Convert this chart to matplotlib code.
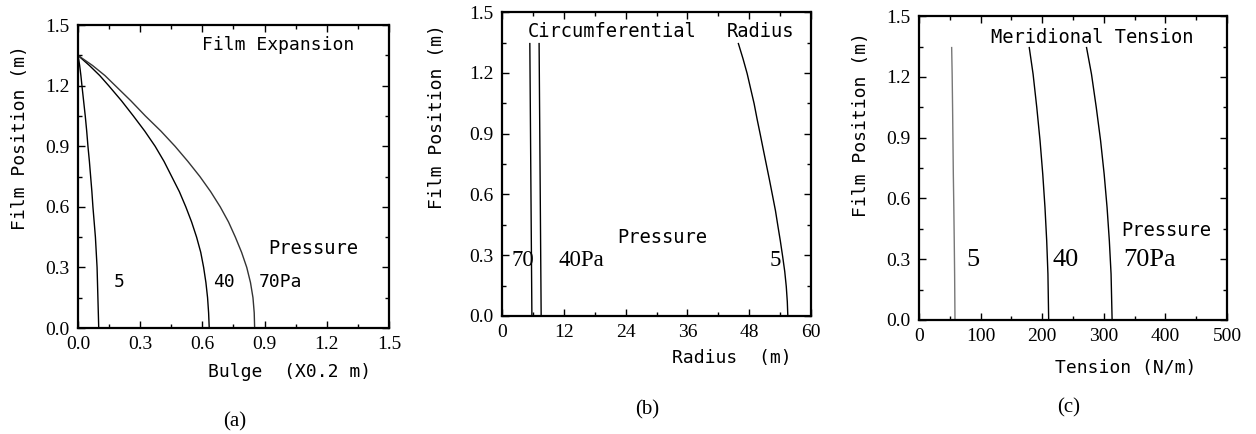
import matplotlib
matplotlib.use("Agg")
import matplotlib.pyplot as plt
from matplotlib.ticker import MultipleLocator

# (a) Membranausbeulung
pos_a = [1.35, 1.3, 1.25, 1.2, 1.125, 1.05, 0.975, 0.9, 0.825, 0.75,
         0.675, 0.6, 0.525, 0.45, 0.375, 0.3, 0.225, 0.15, 0.075, 0.0]
bulge_5 = [0.0, 0.008, 0.014, 0.019, 0.027, 0.035, 0.042, 0.048, 0.055, 0.061,
           0.067, 0.072, 0.078, 0.084, 0.088, 0.092, 0.094, 0.096, 0.098, 0.10]
bulge_40 = [0.0, 0.055, 0.105, 0.148, 0.21, 0.267, 0.322, 0.372, 0.415, 0.452,
            0.489, 0.520, 0.548, 0.572, 0.592, 0.606, 0.617, 0.625, 0.63, 0.633]
bulge_70 = [0.0, 0.07, 0.13, 0.18, 0.255, 0.325, 0.40, 0.468, 0.53, 0.588,
            0.64, 0.686, 0.726, 0.759, 0.789, 0.814, 0.832, 0.844, 0.85, 0.852]

# (b) Umfangsradius
pos_b = [1.345, 1.27, 1.197, 1.12, 1.049, 0.97, 0.896, 0.82, 0.745, 0.67,
         0.592, 0.52, 0.44, 0.37, 0.293, 0.22, 0.145, 0.07, 0.0]
radius_5 = [45.9, 46.8, 47.6, 48.3, 48.95, 49.55, 50.15, 50.75, 51.35, 51.95,
            52.55, 53.1, 53.6, 54.05, 54.5, 54.9, 55.2, 55.4, 55.5]
pos_b_line = [1.345, 0.0]
radius_40 = [7.2, 7.6]
radius_70 = [5.4, 5.8]

# (c) Meridianspannung
pos_c = [1.345, 1.214, 1.049, 0.885, 0.72, 0.556, 0.391, 0.227, 0.0]
tension_5 = [53, 53.8, 54.5, 55.1, 55.7, 56.5, 57.2, 57.8, 58.4]
tension_40 = [179, 185.2, 191.2, 196.5, 200.9, 204.5, 207.3, 209.3, 210.5]
tension_70 = [272, 280, 287.8, 294.8, 300.6, 305.3, 309, 311.8, 313.5]

mono = "DejaVu Sans Mono"
serif = "Liberation Serif"

plt.rcParams['font.family'] = serif
plt.rcParams['xtick.direction'] = 'in'
plt.rcParams['ytick.direction'] = 'in'

fig = plt.figure(figsize=(12.56, 4.34), dpi=100)
ax_a = fig.add_axes([0.0621, 0.2442, 0.2476, 0.698])
ax_b = fig.add_axes([0.3997, 0.2719, 0.2460, 0.700])
ax_c = fig.add_axes([0.7317, 0.2627, 0.2452, 0.700])


def style(ax, xmax, xmajor):
    ax.set_xlim(0, xmax)
    ax.set_ylim(0, 1.5)
    ax.xaxis.set_major_locator(MultipleLocator(xmajor))
    ax.xaxis.set_minor_locator(MultipleLocator(xmajor / 2))
    ax.yaxis.set_major_locator(MultipleLocator(0.3))
    ax.yaxis.set_minor_locator(MultipleLocator(0.15))
    ax.yaxis.set_major_formatter(lambda v, p: f"{v:.1f}")
    ax.tick_params(which='both', top=True, right=True, width=1.0)
    ax.tick_params(which='major', length=5, labelsize=14, pad=6)
    ax.tick_params(which='minor', length=3)
    for sp in ax.spines.values():
        sp.set_linewidth(1.6)


lw = 1.0

# (a)
ax_a.plot(bulge_5, pos_a, color='k', lw=lw)
ax_a.plot(bulge_40, pos_a, color='k', lw=lw)
ax_a.plot(bulge_70, pos_a, color='#333333', lw=lw)
style(ax_a, 1.5, 0.3)
ax_a.xaxis.set_major_formatter(lambda v, p: f"{v:.1f}")
ax_a.text(0.6, 1.40, "Film Expansion", family=mono, fontsize=13, va='center')
ax_a.text(0.92, 0.395, "Pressure", family=mono, fontsize=13.5, va='center')
ax_a.text(0.17, 0.23, "5", family=mono, fontsize=13, va='center')
ax_a.text(0.65, 0.23, "40", family=mono, fontsize=13, va='center')
ax_a.text(0.87, 0.23, "70Pa", family=mono, fontsize=13, va='center')

# (b)
ax_b.plot(radius_70, pos_b_line, color='k', lw=lw)
ax_b.plot(radius_40, pos_b_line, color='k', lw=lw)
ax_b.plot(radius_5, pos_b, color='k', lw=lw)
style(ax_b, 60, 12)
ax_b.text(4.9, 1.406, "Circumferential", family=mono, fontsize=13.5, va='center')
ax_b.text(43.6, 1.406, "Radius", family=mono, fontsize=13.5, va='center')
ax_b.text(22.3, 0.39, "Pressure", family=mono, fontsize=13.5, va='center')
ax_b.text(1.8, 0.276, "70", fontsize=16.5, va='center')
ax_b.text(10.9, 0.276, "40Pa", fontsize=16.5, va='center')
ax_b.text(52.0, 0.276, "5", fontsize=16.5, va='center')

# (c)
ax_c.plot(tension_5, pos_c, color='#777777', lw=lw)
ax_c.plot(tension_40, pos_c, color='k', lw=lw)
ax_c.plot(tension_70, pos_c, color='k', lw=lw)
style(ax_c, 500, 100)
ax_c.text(117, 1.393, "Meridional Tension", family=mono, fontsize=13.5, va='center')
ax_c.text(328, 0.44, "Pressure", family=mono, fontsize=13.5, va='center')
ax_c.text(77, 0.296, "5", fontsize=19, va='center')
ax_c.text(217, 0.296, "40", fontsize=19, va='center')
ax_c.text(331, 0.296, "70Pa", fontsize=19, va='center')

# Achsenbeschriftungen
fig.text(0.0159, 0.684, "Film Position (m)", family=mono, fontsize=13,
         rotation=90, ha='center', va='center')
fig.text(0.348, 0.7316, "Film Position (m)", family=mono, fontsize=13,
         rotation=90, ha='center', va='center')
fig.text(0.6855, 0.712, "Film Position (m)", family=mono, fontsize=13,
         rotation=90, ha='center', va='center')
fig.text(0.2309, 0.1429, "Bulge  (X0.2 m)", family=mono, fontsize=13,
         ha='center', va='center')
fig.text(0.5828, 0.1751, "Radius  (m)", family=mono, fontsize=13,
         ha='center', va='center')
fig.text(0.8961, 0.152, "Tension (N/m)", family=mono, fontsize=13,
         ha='center', va='center')

fig.text(235 / 1256, 0.0276, "(a)", fontsize=15, ha='center', va='center')
fig.text(647 / 1256, 0.055, "(b)", fontsize=15, ha='center', va='center')
fig.text(1069 / 1256, 0.06, "(c)", fontsize=15, ha='center', va='center')

fig.savefig("out.png", dpi=100)
